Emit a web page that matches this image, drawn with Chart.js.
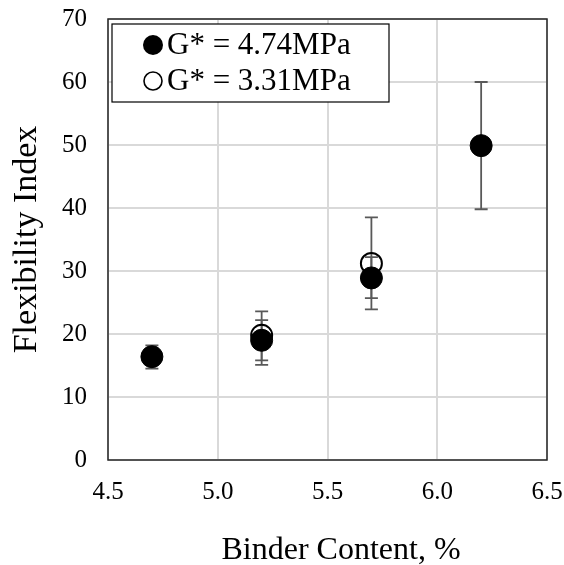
<!DOCTYPE html>
<html>
<head>
<meta charset="utf-8">
<script src="https://cdn.jsdelivr.net/npm/chart.js@4.4.1/dist/chart.umd.min.js"></script>
<style>
  html, body { margin: 0; padding: 0; background: #fff; }
  #wrap { width: 564px; height: 565px; position: relative; }
</style>
</head>
<body>
<div id="wrap"><canvas id="fi-chart" width="564" height="565"></canvas></div>
<script>
// binder content (%) for each mix
const binderHigh = [4.7, 5.2, 5.7, 6.2];
const binderLow = [5.2, 5.7];

// flexibility index, G* = 4.74 MPa
const fiHigh = [16.4, 19.0, 28.9, 49.9];
const errHighUp = [1.8, 3.2, 3.3, 10.1];
const errHighDown = [1.9, 3.2, 3.2, 10.1];

// flexibility index, G* = 3.31 MPa
const fiLow = [19.8, 31.2];
const errLowUp = [3.8, 7.3];
const errLowDown = [4.7, 7.3];

const seriesLabels = ["G* = 4.74MPa", "G* = 3.31MPa"];
const xTicks = [4.5, 5.0, 5.5, 6.0, 6.5];
const yTicks = [0, 10, 20, 30, 40, 50, 60, 70];
const xTitle = "Binder Content, %";
const yTitle = "Flexibility Index";

const serif = "'Liberation Serif', 'Times New Roman', serif";

function toPoints(xs, ys, up, down) {
    return xs.map((x, i) => ({ x: x, y: ys[i], up: up[i], down: down[i] }));
}

// error bars go under the markers
const errorBars = {
    id: 'errorBars',
    beforeDatasetsDraw(chart) {
        const ctx = chart.ctx;
        const xs = chart.scales.x, ys = chart.scales.y;
        ctx.save();
        ctx.strokeStyle = '#595959';
        ctx.lineWidth = 1.8;
        chart.data.datasets.forEach(ds => {
            ds.data.forEach(p => {
                const px = xs.getPixelForValue(p.x);
                const top = ys.getPixelForValue(p.y + p.up);
                const bot = ys.getPixelForValue(p.y - p.down);
                ctx.beginPath();
                ctx.moveTo(px, top); ctx.lineTo(px, bot);
                ctx.moveTo(px - 6.5, top); ctx.lineTo(px + 6.5, top);
                ctx.moveTo(px - 6.5, bot); ctx.lineTo(px + 6.5, bot);
                ctx.stroke();
            });
        });
        ctx.restore();
    }
};

// plot frame, axis titles and a boxed legend in the top-left corner
const frameAndLegend = {
    id: 'frameAndLegend',
    afterDraw(chart) {
        const ctx = chart.ctx;
        const a = chart.chartArea;
        ctx.save();
        ctx.strokeStyle = '#262626';
        ctx.lineWidth = 1.5;
        ctx.strokeRect(a.left, a.top, a.right - a.left, a.bottom - a.top);

        // axis titles
        ctx.fillStyle = '#000';
        ctx.textAlign = 'center';
        ctx.textBaseline = 'middle';
        ctx.font = '32px ' + serif;
        ctx.fillText(xTitle, 341, 551);
        ctx.save();
        ctx.translate(27, (a.top + a.bottom) / 2);
        ctx.rotate(-Math.PI / 2);
        ctx.font = '34px ' + serif;
        ctx.fillText(yTitle, 0, 0);
        ctx.restore();

        // legend
        const bx = a.left + 4, by = a.top + 5, bw = 277, bh = 78;
        ctx.fillStyle = '#fff';
        ctx.fillRect(bx, by, bw, bh);
        ctx.strokeStyle = '#000';
        ctx.lineWidth = 1.2;
        ctx.strokeRect(bx, by, bw, bh);

        ctx.font = '31px ' + serif;
        ctx.textAlign = 'left';
        chart.data.datasets.forEach((ds, i) => {
            const cy = by + 21 + i * 36;
            const cx = bx + 41;
            ctx.beginPath();
            ctx.arc(cx, cy, i === 0 ? 10 : 9, 0, Math.PI * 2);
            if (i === 0) {
                ctx.fillStyle = '#000';
                ctx.fill();
            } else {
                ctx.lineWidth = 1.6;
                ctx.strokeStyle = '#000';
                ctx.stroke();
            }
            ctx.fillStyle = '#000';
            ctx.fillText(ds.label, cx + 14, cy + 1);
        });
        ctx.restore();
    }
};

const fiChart = new Chart(document.getElementById('fi-chart'), {
    type: 'scatter',
    data: {
        datasets: [{
            label: seriesLabels[0],
            data: toPoints(binderHigh, fiHigh, errHighUp, errHighDown),
            pointRadius: 11,
            pointBackgroundColor: '#000',
            pointBorderColor: '#000',
            pointBorderWidth: 1
        }, {
            label: seriesLabels[1],
            data: toPoints(binderLow, fiLow, errLowUp, errLowDown),
            pointRadius: 10.5,
            pointBackgroundColor: 'rgba(255,255,255,0)',
            pointBorderColor: '#000',
            pointBorderWidth: 2
        }]
    },
    options: {
        responsive: false,
        animation: false,
        layout: { padding: { top: 19, right: 17, left: 0, bottom: 0 } },
        plugins: {
            legend: { display: false },
            tooltip: { enabled: false }
        },
        scales: {
            x: {
                type: 'linear',
                min: 4.5,
                max: 6.5,
                afterBuildTicks: s => { s.ticks = xTicks.map(v => ({ value: v })); },
                afterFit: s => {
                    s.height = 105;
                    s.paddingLeft = 0;
                    s.paddingRight = 0;
                },
                grid: { color: '#d9d9d9', lineWidth: 2, drawTicks: false },
                border: { display: false },
                ticks: {
                    padding: 17,
                    maxRotation: 0,
                    color: '#000',
                    font: { family: serif, size: 25 },
                    callback: v => v.toFixed(1)
                }
            },
            y: {
                min: 0,
                max: 70,
                afterBuildTicks: s => { s.ticks = yTicks.map(v => ({ value: v })); },
                afterFit: s => {
                    s.width = 108;
                    s.paddingTop = 0;
                    s.paddingBottom = 0;
                },
                grid: { color: '#d9d9d9', lineWidth: 2, drawTicks: false },
                border: { display: false },
                ticks: {
                    padding: 21,
                    color: '#000',
                    font: { family: serif, size: 25 }
                }
            }
        }
    },
    plugins: [errorBars, frameAndLegend]
});
</script>
</body>
</html>
